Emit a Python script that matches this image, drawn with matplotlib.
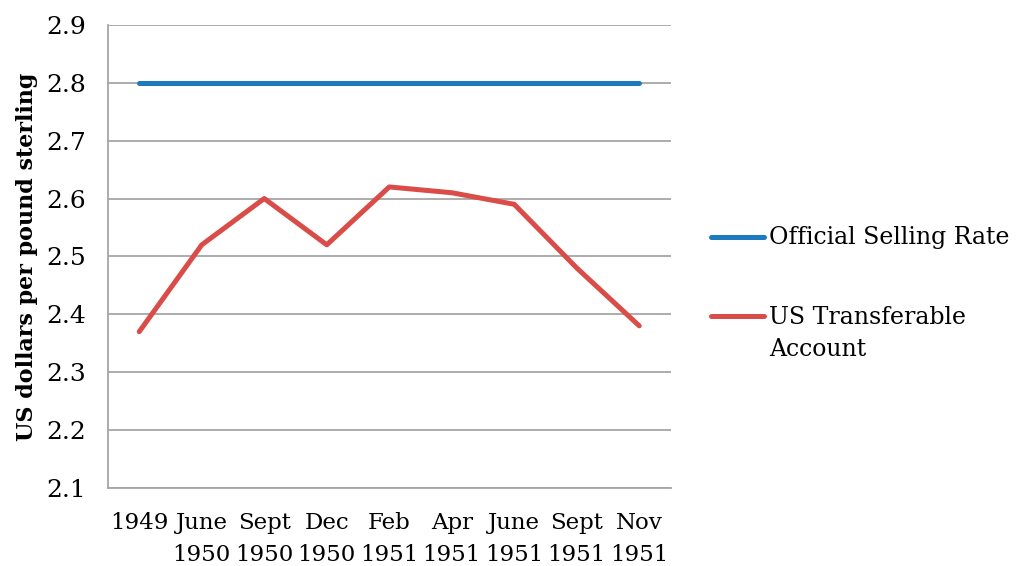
import matplotlib
matplotlib.use('Agg')
import matplotlib.pyplot as plt
from matplotlib.lines import Line2D

# dates of the observations
dates = ['1949', 'June\n1950', 'Sept\n1950', 'Dec\n1950', 'Feb\n1951',
         'Apr\n1951', 'June\n1951', 'Sept\n1951', 'Nov\n1951']
official_rate = [2.80, 2.80, 2.80, 2.80, 2.80, 2.80, 2.80, 2.80, 2.80]
transferable = [2.37, 2.52, 2.60, 2.52, 2.62, 2.61, 2.59, 2.48, 2.38]
y_ticks = [2.1, 2.2, 2.3, 2.4, 2.5, 2.6, 2.7, 2.8, 2.9]
names = ['Official Selling Rate', 'US Transferable\nAccount']

blue = '#1c7bbf'
red = '#d94c48'

plt.rcParams['font.family'] = ['DejaVu Serif']

fig = plt.figure(figsize=(10.19, 5.66), dpi=100)
ax = fig.add_axes([0.106, 0.138, 0.552, 0.818])

x = range(len(dates))
ax.plot(x, official_rate, color=blue, lw=3.6, solid_capstyle='round')
ax.plot(x, transferable, color=red, lw=3.6, solid_capstyle='round')

ax.set_xlim(-0.5, len(dates) - 0.5)
ax.set_ylim(2.1, 2.9)
ax.set_yticks(y_ticks)
ax.set_yticklabels(['%.1f' % v for v in y_ticks], fontsize=18)
ax.set_xticks(list(x))
ax.set_xticklabels(dates, linespacing=1.6, fontsize=16.5)
ax.tick_params(length=0)
ax.tick_params(axis='x', pad=17)
ax.tick_params(axis='y', pad=16)
ax.yaxis.grid(True, color='#a6a6a6', lw=1.3)
ax.set_axisbelow(True)
for s in ['top', 'right']:
    ax.spines[s].set_visible(False)
for s in ['left', 'bottom']:
    ax.spines[s].set_color('#a6a6a6')
    ax.spines[s].set_linewidth(1.3)

ax.set_ylabel('US dollars per pound sterling', fontsize=16, fontweight='bold')
ax.yaxis.set_label_coords(-0.125, 0.5)

# legend drawn by hand so the handle sits on the first text line
for name, col, ypos in zip(names, [blue, red], [0.581, 0.441]):
    fig.add_artist(Line2D([0.698, 0.750], [ypos, ypos], color=col, lw=3.6,
                          solid_capstyle='round', transform=fig.transFigure))
    fig.text(0.755, ypos + 0.019, name, fontsize=17, va='top', ha='left',
             linespacing=1.5, transform=fig.transFigure)

plt.savefig('out.png', dpi=100)
